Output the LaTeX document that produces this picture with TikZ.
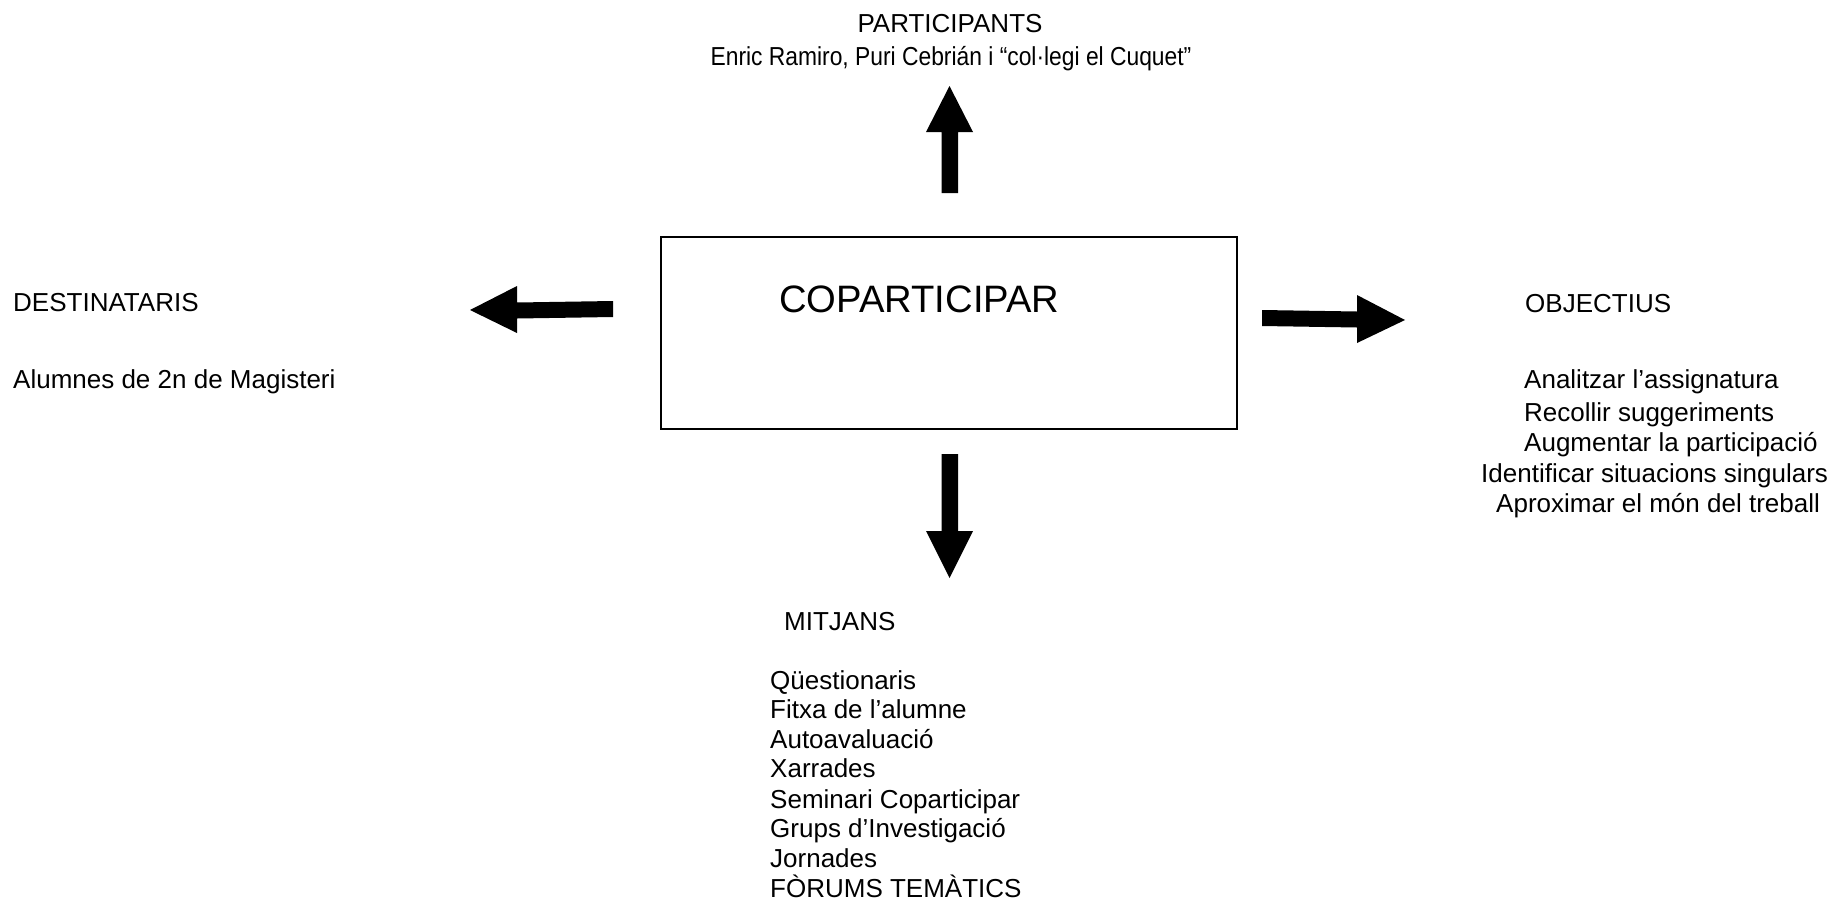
\documentclass[tikz,border=0pt]{standalone}
\usepackage{fontspec}
\setmainfont{Liberation Sans}
\begin{document}
\begin{tikzpicture}[x=1pt,y=-1pt,
  lbl/.style={inner sep=0pt, font=\fontsize{26}{30}\selectfont},
  big/.style={inner sep=0pt, font=\fontsize{38.2}{42}\selectfont},
  blockarrow/.style={fill=black, draw=none}]
\useasboundingbox (0,0) rectangle (1834,900);
% central box
\node[draw, line width=2pt, minimum width=576pt, minimum height=192pt, inner sep=0pt] (box) at (949,333) {};
\node[big, anchor=base west] (title) at (779,312) {COPARTICIPAR};
% top
\node[lbl, anchor=base] (part) at (950,32) {PARTICIPANTS};
\node[lbl, anchor=base, xscale=0.878] (partnames) at (951,65) {Enric Ramiro, Puri Cebrián i “col·legi el Cuquet”};
% left
\node[lbl, anchor=base west] (dest) at (13,311) {DESTINATARIS};
\node[lbl, anchor=base west] (destl) at (13,388) {Alumnes de 2n de Magisteri};
% right
\node[lbl, anchor=base west] (obj) at (1525,312) {OBJECTIUS};
\node[lbl, anchor=base west] (o1) at (1524,388) {Analitzar l’assignatura};
\node[lbl, anchor=base west] (o2) at (1524,421) {Recollir suggeriments};
\node[lbl, anchor=base west] (o3) at (1524,451) {Augmentar la participació};
\node[lbl, anchor=base west] (o4) at (1481,482) {Identificar situacions singulars};
\node[lbl, anchor=base west] (o5) at (1496,512) {Aproximar el món del treball};
% bottom
\node[lbl, anchor=base west] (mit) at (784,630) {MITJANS};
\node[lbl, anchor=base west] (m1) at (770,689) {Qüestionaris};
\node[lbl, anchor=base west] (m2) at (770,718) {Fitxa de l’alumne};
\node[lbl, anchor=base west] (m3) at (770,748) {Autoavaluació};
\node[lbl, anchor=base west] (m4) at (770,777) {Xarrades};
\node[lbl, anchor=base west] (m5) at (770,808) {Seminari Coparticipar};
\node[lbl, anchor=base west] (m6) at (770,837) {Grups d’Investigació};
\node[lbl, anchor=base west] (m7) at (770,867) {Jornades};
\node[lbl, anchor=base west] (m8) at (770,897) {FÒRUMS TEMÀTICS};
% block arrows
\fill[blockarrow] (941.5,193) -- (941.5,132) -- (926,132) -- (949.5,86) -- (973,132) -- (958,132) -- (958,193) -- cycle;
\fill[blockarrow] (941.5,454) -- (941.5,531) -- (926,531) -- (949.5,578) -- (973,531) -- (958,531) -- (958,454) -- cycle;
\fill[blockarrow] (613,301) -- (517,302.5) -- (517,286) -- (470,310) -- (517,333) -- (517,318.5) -- (613,317) -- cycle;
\fill[blockarrow] (1262,310) -- (1357,311.5) -- (1357,295) -- (1405,320) -- (1357,343) -- (1357,327.5) -- (1262,326) -- cycle;
\end{tikzpicture}
\end{document}
